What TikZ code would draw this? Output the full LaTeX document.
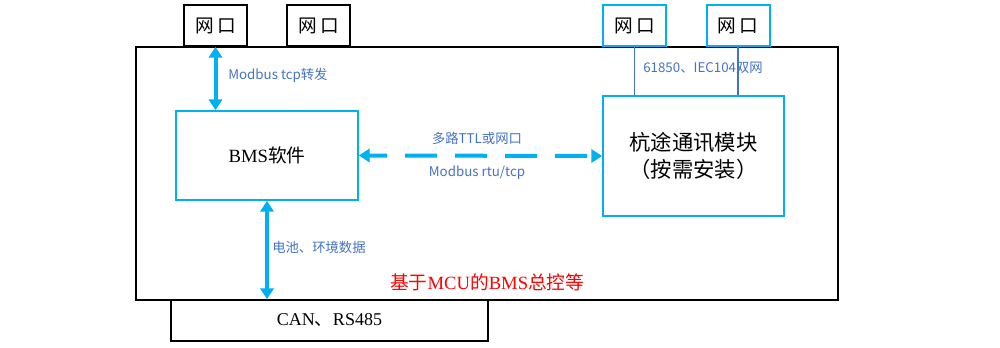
\documentclass[tikz,border=0pt]{standalone}
\usepackage{fontspec}
\setmainfont{Liberation Serif}
\newfontfamily\cjk{Noto Sans CJK SC}
\usetikzlibrary{arrows.meta}
\definecolor{skyb}{HTML}{00B0F0}
\definecolor{lblue}{HTML}{4472C4}
\definecolor{redt}{HTML}{FF0000}
\tikzset{
  blackbox/.style={draw=black,line width=1.5pt,fill=white,inner sep=0pt},
  bluebox/.style={draw=skyb,line width=1.5pt,fill=white,inner sep=0pt,align=center},
  port/.style={minimum width=47.25pt,minimum height=30.75pt,font=\cjk\fontsize{14}{16}\selectfont},
  bigarrow/.style={draw=skyb,line width=3pt,{Triangle[length=8pt,width=10pt]}-{Triangle[length=8pt,width=10pt]}},
  thinline/.style={draw=lblue,line width=0.9pt},
  lbl/.style={text=lblue,font=\cjk\fontsize{10}{12}\selectfont,inner sep=0pt}
}
\begin{document}
\begin{tikzpicture}[x=0.75pt,y=-0.75pt]
\useasboundingbox (0,0) rectangle (1000,348);
\node[blackbox,fill=none,minimum width=526.5pt,minimum height=189.75pt] (main) at (487,173.5) {};
\node[blackbox,port] (p1) at (215.5,25.5) {网\,口};
\node[blackbox,port] (p2) at (318.5,25.5) {网\,口};
\node[bluebox,port] (p3) at (634.5,25.5) {网\,口};
\node[bluebox,port] (p4) at (738,25.5) {网\,口};
\node[bluebox,minimum width=136.5pt,minimum height=66.75pt,font=\fontsize{14}{16}\selectfont] (bms) at (267,155.5) {BMS{\cjk 软件}};
\node[bluebox,minimum width=135.75pt,minimum height=90pt,font=\cjk\fontsize{16}{20}\selectfont] (mod) at (693.5,156) {杭途通讯模块\\（按需安装）};
\node[blackbox,minimum width=237.75pt,minimum height=30.75pt,font=\fontsize{13.5}{15}\selectfont] (can) at (329.5,320.5) {CAN{\cjk 、}RS485};
% connectors
\draw[bigarrow] (p1.south) -- (p1.south |- bms.north);
\draw[bigarrow] (bms.south) -- (bms.south |- can.north);
\draw[bigarrow,dash pattern=on 24pt off 13.5pt,dash phase=10.5pt] (bms.east) -- (mod.west);
\draw[thinline] (p3.south) -- (p3.south |- mod.north);
\draw[thinline] (p4.south) -- (p4.south |- mod.north);
% labels
\node[lbl,anchor=west] (l1) at (228,75) {Modbus tcp转发};
\node[lbl,anchor=west] (l2) at (643,68) {61850、IEC104双网};
\node[lbl] (l3) at (477,138) {多路TTL或网口};
\node[lbl] (l4) at (477,173) {Modbus rtu/tcp};
\node[lbl,anchor=west] (l5) at (272,247) {电池、环境数据};
\node[text=redt,font=\fontsize{14}{16}\selectfont,anchor=west,inner sep=0pt] (l6) at (390,282) {{\cjk 基于}MCU{\cjk 的}BMS{\cjk 总控等}};
\end{tikzpicture}
\end{document}
